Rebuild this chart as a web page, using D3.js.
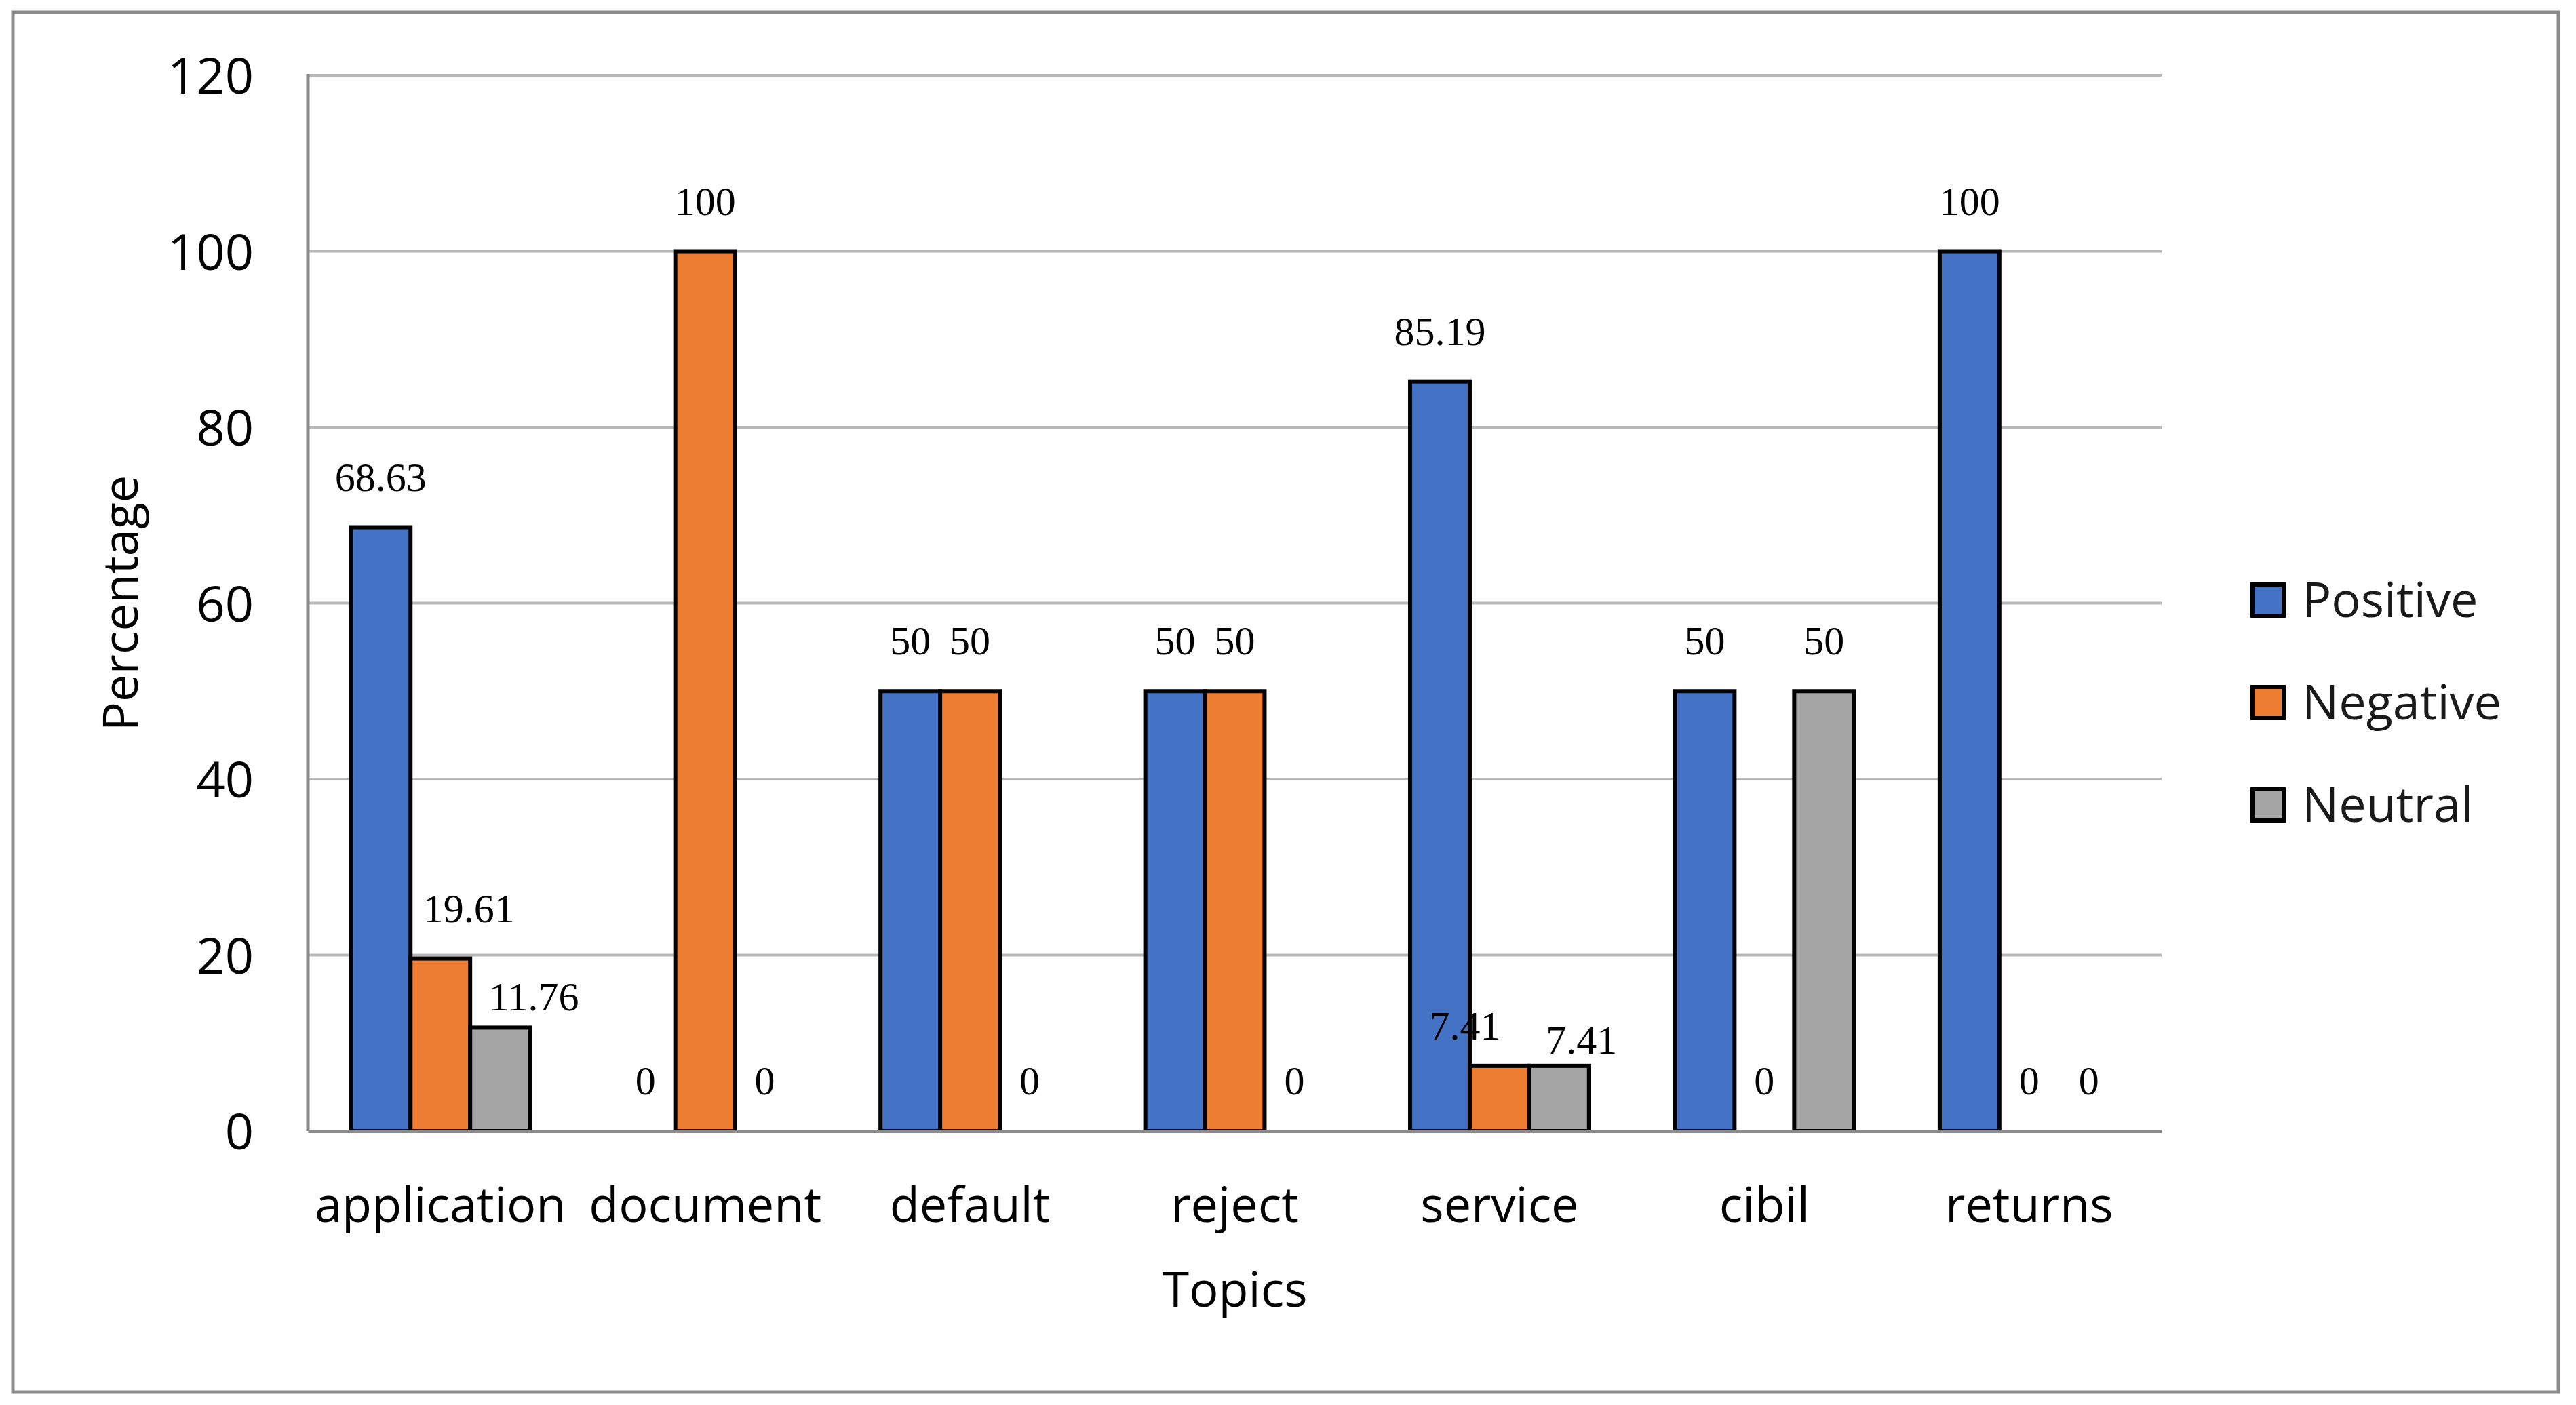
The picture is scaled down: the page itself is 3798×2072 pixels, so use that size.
<!DOCTYPE html>
<html>
<head>
<meta charset="utf-8">
<script src="https://cdn.jsdelivr.net/npm/d3@7"></script>
<style>
html,body{margin:0;padding:0;background:#fff;}
svg{display:block;}
</style>
</head>
<body>
<script>
// ---- data ----
const categories = ["application", "document", "default", "reject", "service", "cibil", "returns"];
const seriesNames = ["Positive", "Negative", "Neutral"];
const positive = [68.63, 0, 50, 50, 85.19, 50, 100];
const negative = [19.61, 100, 50, 50, 7.41, 0, 0];
const neutral  = [11.76, 0, 0, 0, 7.41, 50, 0];
const yTicks = [0, 20, 40, 60, 80, 100, 120];
const xTitle = "Topics";
const yTitle = "Percentage";
const seriesValues = [positive, negative, neutral];
const colors = ["#4472C4", "#ED7D31", "#A5A5A5"];

// ---- layout ----
const W = 3798, H = 2072;
const plot = {left: 454, right: 3187, top: 111, bottom: 1668};
const sansFont = "'Open Sans', 'Noto Sans', sans-serif";
const serifFont = "'Liberation Serif', 'DejaVu Serif', serif";

const svg = d3.select("body").append("svg").attr("width", W).attr("height", H);

// outer border
svg.append("rect").attr("x", 19).attr("y", 18).attr("width", 3772 - 19).attr("height", 2053 - 18)
  .attr("fill", "#fff").attr("stroke", "#8c8c8c").attr("stroke-width", 5);

const x0 = d3.scaleBand().domain(categories).range([plot.left, plot.right]).padding(0);
const x1 = d3.scaleBand().domain(seriesNames).range([0, x0.bandwidth()]).paddingInner(0).paddingOuter(0.72);
const y = d3.scaleLinear().domain([0, 120]).range([plot.bottom, plot.top]);

// gridlines
svg.append("g").selectAll("line").data(yTicks.filter(t => t > 0)).join("line")
  .attr("x1", plot.left).attr("x2", plot.right)
  .attr("y1", d => y(d)).attr("y2", d => y(d))
  .attr("stroke", "#b8b8b8").attr("stroke-width", 4);

// y tick labels via axis
const yAxis = svg.append("g").attr("transform", `translate(${plot.left},0)`)
  .call(d3.axisLeft(y).tickValues(yTicks).tickSize(0).tickPadding(80).tickFormat(d3.format("d")));
yAxis.select(".domain").remove();
yAxis.selectAll("text").attr("font-family", sansFont).attr("font-size", 74).attr("fill", "#000").attr("dy", "0.36em");

// bars
const rows = [];
categories.forEach((c, i) => seriesNames.forEach((s, j) => rows.push({cat: c, ser: s, si: j, v: seriesValues[j][i]})));

svg.append("g").selectAll("rect").data(rows.filter(d => d.v > 0)).join("rect")
  .attr("x", d => x0(d.cat) + x1(d.ser))
  .attr("y", d => y(d.v))
  .attr("width", x1.bandwidth())
  .attr("height", d => y(0) - y(d.v))
  .attr("fill", d => colors[d.si])
  .attr("stroke", "#000").attr("stroke-width", 6);

// axis lines (drawn over bars)
svg.append("line").attr("x1", plot.left).attr("x2", plot.left).attr("y1", plot.top - 2).attr("y2", plot.bottom)
  .attr("stroke", "#8c8c8c").attr("stroke-width", 5);
const xAxis = svg.append("g").attr("transform", `translate(0,${plot.bottom})`)
  .call(d3.axisBottom(x0).tickSize(0).tickPadding(134));
xAxis.select(".domain").attr("stroke", "#8c8c8c").attr("stroke-width", 5);
xAxis.selectAll("text").attr("font-family", sansFont).attr("font-size", 72).attr("fill", "#000").attr("dy", "0");

// data labels (a few nudged as in the original)
const nudge = {
  "application|Negative": [42, 0],
  "application|Neutral": [50, 29],
  "service|Negative": [-51, 15],
  "service|Neutral": [33, 36]
};
svg.append("g").selectAll("text").data(rows).join("text")
  .attr("x", d => x0(d.cat) + x1(d.ser) + x1.bandwidth() / 2 + ((nudge[d.cat + "|" + d.ser] || [0, 0])[0]))
  .attr("y", d => y(d.v) - 54 + ((nudge[d.cat + "|" + d.ser] || [0, 0])[1]))
  .attr("text-anchor", "middle")
  .attr("font-family", serifFont).attr("font-size", 60).attr("fill", "#000")
  .text(d => d.v);

// axis titles
svg.append("text").attr("x", (plot.left + plot.right) / 2).attr("y", 1927)
  .attr("text-anchor", "middle").attr("font-family", sansFont).attr("font-size", 72).attr("fill", "#000")
  .text(xTitle);
svg.append("text").attr("transform", `translate(203,${(plot.top + plot.bottom) / 2}) rotate(-90)`)
  .attr("text-anchor", "middle").attr("font-family", sansFont).attr("font-size", 72).attr("fill", "#000")
  .text(yTitle);

// legend
const leg = svg.append("g").selectAll("g").data(seriesNames).join("g")
  .attr("transform", (d, i) => `translate(3321,${862 + i * 151})`);
leg.append("rect").attr("width", 46).attr("height", 46)
  .attr("fill", (d, i) => colors[i]).attr("stroke", "#000").attr("stroke-width", 6);
leg.append("text").attr("x", 73).attr("y", 48)
  .attr("font-family", sansFont).attr("font-size", 72).attr("fill", "#1a1a1a")
  .text(d => d);
</script>
</body>
</html>
